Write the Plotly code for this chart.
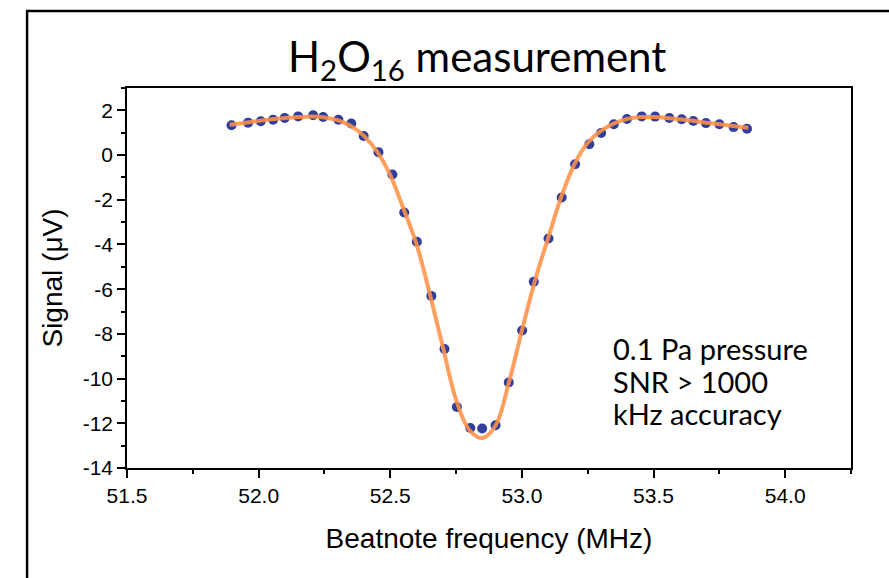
import plotly.graph_objects as go

# Measured data points
freq_mhz = [51.897, 51.960, 52.008, 52.055, 52.099, 52.150, 52.207, 52.245, 52.303, 52.352,
            52.399, 52.455, 52.508, 52.553, 52.601, 52.656, 52.706, 52.753, 52.804, 52.849,
            52.900, 52.950, 53.001, 53.045, 53.101, 53.151, 53.202, 53.256, 53.301, 53.349,
            53.399, 53.455, 53.506, 53.560, 53.607, 53.651, 53.699, 53.750, 53.804, 53.855]
signal_uv = [1.33, 1.45, 1.51, 1.58, 1.66, 1.73, 1.78, 1.70, 1.58, 1.41,
             0.85, 0.13, -0.87, -2.57, -3.88, -6.30, -8.68, -11.27, -12.21, -12.23,
             -12.09, -10.17, -7.85, -5.67, -3.73, -1.90, -0.41, 0.48, 0.99, 1.38,
             1.61, 1.73, 1.72, 1.66, 1.60, 1.52, 1.43, 1.38, 1.25, 1.18]

# Fitted curve
fit_freq = [51.89, 51.95, 52.00, 52.05, 52.10, 52.15, 52.20, 52.25, 52.30, 52.35,
            52.40, 52.45, 52.50, 52.55, 52.60, 52.65, 52.70, 52.75, 52.80, 52.85,
            52.90, 52.95, 53.00, 53.05, 53.10, 53.15, 53.20, 53.25, 53.30, 53.35,
            53.40, 53.45, 53.50, 53.55, 53.60, 53.65, 53.70, 53.75, 53.80, 53.86]
fit_signal = [1.36, 1.45, 1.53, 1.60, 1.66, 1.70, 1.72, 1.68, 1.56, 1.30,
              0.86, 0.15, -0.90, -2.40, -4.00, -6.20, -8.60, -10.95, -12.30, -12.66,
              -12.10, -10.20, -7.85, -5.60, -3.70, -1.85, -0.40, 0.55, 1.08, 1.42,
              1.62, 1.70, 1.70, 1.66, 1.60, 1.53, 1.45, 1.38, 1.30, 1.22]

x_range = [51.5, 54.25]
x_ticks = [51.5, 52.0, 52.5, 53.0, 53.5, 54.0]
x_tick_labels = ["51.5", "52.0", "52.5", "53.0", "53.5", "54.0"]
y_range = [-14, 3]
y_ticks = [2, 0, -2, -4, -6, -8, -10, -12, -14]
y_tick_labels = ["2", "0", "-2", "-4", "-6", "-8", "-10", "-12", "-14"]

notes = ["0.1 Pa pressure", "SNR > 1000", "kHz accuracy"]

fig = go.Figure()
fig.add_trace(go.Scatter(
    x=freq_mhz, y=signal_uv, mode="markers",
    marker=dict(size=10, color="rgb(48,62,156)", line=dict(width=0)),
    showlegend=False))
fig.add_trace(go.Scatter(
    x=fit_freq, y=fit_signal, mode="lines", line_shape="spline",
    line=dict(color="rgb(255,146,72)", width=4), opacity=0.88,
    showlegend=False))

axis_font = dict(family="Liberation Sans", size=21, color="black")
title_font = dict(family="Liberation Sans", size=28, color="black")
fig.update_xaxes(
    range=x_range, tickvals=x_ticks, ticktext=x_tick_labels,
    showline=True, linecolor="black", linewidth=1.5, mirror=True,
    ticks="outside", ticklen=8, tickwidth=1.5, tickcolor="black",
    minor=dict(dtick=0.25, tick0=51.5, ticks="outside", ticklen=4, tickwidth=1.5, tickcolor="black", showgrid=False),
    showgrid=False, zeroline=False, tickfont=axis_font,
    title=dict(text="Beatnote frequency (MHz)", font=title_font, standoff=22))
fig.update_yaxes(
    range=y_range, tickvals=y_ticks, ticktext=y_tick_labels,
    showline=True, linecolor="black", linewidth=1.5, mirror=True,
    ticks="outside", ticklen=8, tickwidth=1.5, tickcolor="black",
    minor=dict(dtick=1, tick0=0, ticks="outside", ticklen=4, tickwidth=1.5, tickcolor="black", showgrid=False),
    showgrid=False, zeroline=False, tickfont=axis_font,
    title=dict(text="Signal (μV)", font=title_font, standoff=12))

fig.add_annotation(
    text="H<sub>2</sub>O<sub>16</sub> measurement", xref="paper", yref="paper",
    x=0.483, y=1.077, xanchor="center", yanchor="middle", showarrow=False,
    font=dict(family="Lato", size=42, color="black"))

note_y = [0.314, 0.228, 0.144]
for txt, yy in zip(notes, note_y):
    fig.add_annotation(
        text=txt, xref="paper", yref="paper",
        x=0.668, y=yy, xanchor="left", yanchor="middle", align="left", showarrow=False,
        font=dict(family="Lato", size=29, color="black"))

# outer frame
fig.add_shape(type="rect", xref="paper", yref="paper",
              x0=-0.138, x1=1.08, y0=-0.33, y1=1.2026,
              line=dict(color="black", width=2.5), fillcolor="rgba(0,0,0,0)", layer="above")

fig.update_layout(
    width=889, height=578,
    margin=dict(l=127, r=38, t=88, b=110),
    paper_bgcolor="white", plot_bgcolor="white",
)
fig.write_html("out.html", config={"displayModeBar": False},
               post_script="document.body.style.margin='0';")
